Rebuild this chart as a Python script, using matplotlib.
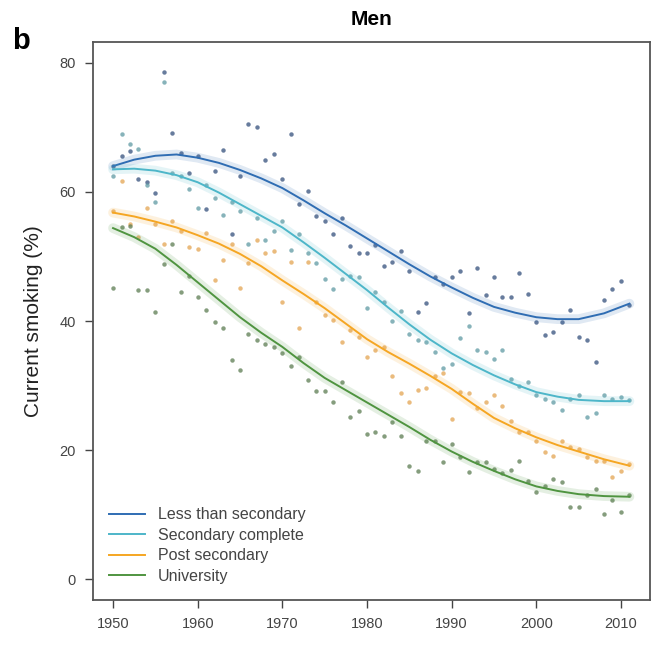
import numpy as np
import matplotlib
matplotlib.use("Agg")
from matplotlib import pyplot as plt

plt.rcParams['font.family'] = ['Liberation Sans', 'DejaVu Sans']

years = list(range(1950, 2012))

# observed points, one per year per education group
less_secondary = [64.0, 65.5, 66.3, 62.0, 61.5, 59.8, 78.5, 69.2, 66.0, 63.0,
                  65.5, 57.4, 63.2, 66.5, 53.5, 62.5, 70.5, 70.0, 65.0, 65.8,
                  62.0, 68.9, 58.2, 60.2, 56.2, 55.5, 53.5, 56.0, 51.7, 50.5,
                  50.6, 51.8, 48.6, 49.2, 50.8, 47.8, 41.4, 42.8, 46.8, 45.8,
                  46.8, 47.7, 41.2, 48.2, 44.0, 46.8, 43.7, 43.7, 47.5, 44.2,
                  39.8, 37.8, 38.3, 39.8, 41.7, 37.5, 37.1, 33.7, 43.2, 44.9,
                  46.2, 42.5]
secondary_complete = [62.5, 68.9, 67.5, 66.6, 61.0, 58.5, 77.0, 63.0, 62.5, 60.5,
                      57.5, 61.0, 59.0, 56.5, 58.5, 57.0, 52.0, 56.0, 52.5, 54.0,
                      55.5, 51.0, 53.5, 50.5, 49.0, 46.5, 45.0, 46.5, 47.0, 46.8,
                      42.0, 44.5, 43.0, 40.0, 41.5, 38.0, 37.0, 36.8, 35.2, 32.8,
                      33.4, 37.4, 39.2, 35.5, 35.2, 34.2, 35.5, 31.0, 30.0, 30.5,
                      28.5, 28.0, 27.5, 26.3, 28.0, 28.5, 25.1, 25.8, 28.5, 28.0,
                      28.3, 27.8]
post_secondary = [57.0, 61.7, 55.0, 53.0, 57.5, 55.0, 52.0, 55.5, 54.0, 51.4,
                  51.2, 53.7, 46.3, 49.4, 52.0, 45.1, 49.0, 52.5, 50.6, 50.8,
                  43.0, 49.1, 38.9, 49.1, 42.9, 41.0, 40.2, 36.8, 38.6, 37.5,
                  34.5, 35.5, 36.0, 31.5, 28.9, 27.5, 29.4, 29.7, 31.5, 32.0,
                  24.8, 29.0, 28.9, 26.5, 27.5, 28.6, 26.8, 24.5, 22.8, 22.8,
                  21.5, 19.8, 19.1, 21.4, 20.5, 20.2, 19.0, 18.3, 18.3, 15.8,
                  16.8, 17.8]
university = [45.1, 54.5, 54.8, 44.8, 44.8, 41.4, 48.9, 52.0, 44.5, 47.0,
              43.8, 41.7, 39.8, 38.9, 34.0, 32.5, 38.0, 37.0, 36.5, 36.0,
              35.0, 33.0, 34.5, 30.9, 29.1, 29.1, 27.4, 30.6, 25.1, 26.0,
              22.5, 22.8, 22.2, 24.3, 22.2, 17.5, 16.8, 21.4, 21.4, 18.2,
              20.9, 19.0, 16.6, 18.2, 18.2, 17.1, 16.5, 17.0, 18.3, 15.2,
              13.5, 14.5, 15.5, 15.1, 11.2, 11.2, 13.0, 14.0, 10.2, 12.3,
              10.5, 13.0]

# smoothed trend
fit_years = [1950, 1952.5, 1955, 1957.5, 1960, 1962.5, 1965, 1967.5, 1970, 1972.5,
             1975, 1977.5, 1980, 1982.5, 1985, 1987.5, 1990, 1992.5, 1995, 1997.5,
             2000, 2002.5, 2005, 2008, 2011]
fit_less = [64.0, 65.0, 65.6, 65.8, 65.3, 64.5, 63.4, 62.1, 60.6, 58.7,
            56.7, 54.8, 52.8, 50.8, 48.8, 46.9, 45.2, 43.6, 42.2, 41.3,
            40.6, 40.3, 40.3, 41.2, 42.7]
fit_secondary = [63.5, 63.6, 63.3, 62.6, 61.5, 59.9, 58.1, 56.3, 54.5, 52.2,
                 49.8, 47.3, 44.8, 42.1, 39.5, 37.1, 35.0, 33.2, 31.6, 30.2,
                 29.0, 28.3, 27.8, 27.6, 27.6]
fit_post = [56.8, 56.2, 55.4, 54.5, 53.3, 52.0, 50.4, 48.5, 46.3, 44.2,
            42.0, 39.6, 37.2, 35.2, 33.4, 31.5, 29.5, 27.2, 25.0, 23.4,
            22.0, 20.8, 19.8, 18.6, 17.6]
fit_univ = [54.4, 53.0, 51.2, 48.7, 46.0, 43.3, 40.6, 38.2, 36.0, 33.5,
            31.2, 29.3, 27.4, 25.5, 23.6, 21.6, 19.8, 18.2, 16.8, 15.5,
            14.4, 13.7, 13.2, 12.9, 12.8]

labels = ["Less than secondary", "Secondary complete", "Post secondary", "University"]
line_colors = ["#2f6db3", "#4db6c9", "#f5a623", "#4f9440"]
point_colors = ["#34507c", "#5f9aa3", "#e3a552", "#5c7c52"]

fig = plt.figure(figsize=(6.53, 6.48), dpi=100)
ax = fig.add_axes([0.142, 0.074, 0.853, 0.861])

series = [(less_secondary, fit_less), (secondary_complete, fit_secondary),
          (post_secondary, fit_post), (university, fit_univ)]
for (pts, fit), lab, lc, pc in zip(series, labels, line_colors, point_colors):
    ax.plot(years, pts, "o", ms=3.2, color=pc, alpha=0.75, mec="none")
    # soft band around the trend
    ax.plot(fit_years, fit, color=lc, lw=7, alpha=0.15, solid_capstyle="round")
    ax.plot(fit_years, fit, color=lc, lw=1.4, label=lab)

ax.set_xlim(1947.6, 2013.4)
ax.set_ylim(-3.2, 83.2)
ax.set_xticks(range(1950, 2011, 10))
ax.set_yticks([0, 20, 40, 60, 80])
ax.tick_params(direction="out", length=6, width=1, colors="#444444", labelsize=10.5, pad=6)
for s in ax.spines.values():
    s.set_color("#555555")
    s.set_linewidth(1.3)

ax.set_ylabel("Current smoking (%)", fontsize=15, color="#222222", labelpad=12)
ax.set_title("Men", fontsize=15, fontweight="bold", pad=12)
fig.text(0.018, 0.925, "b", fontsize=21, fontweight="bold")

leg = ax.legend(loc="lower left", frameon=False, fontsize=11.5, handlelength=2.3,
                labelspacing=0.35, borderaxespad=0.6)
for t in leg.get_texts():
    t.set_color("#444444")

fig.savefig("out.png", dpi=100)
